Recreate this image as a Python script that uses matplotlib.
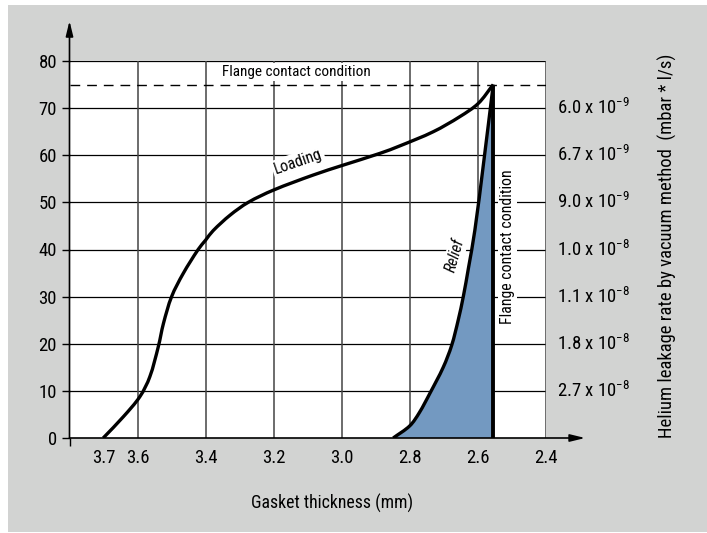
import matplotlib
matplotlib.use("Agg")
import numpy as np
import matplotlib.pyplot as plt
from matplotlib import font_manager
from matplotlib.patches import Rectangle, PathPatch
from matplotlib.path import Path

# ---------------- data ----------------
x_ticks = [3.7, 3.6, 3.4, 3.2, 3.0, 2.8, 2.6, 2.4]
x_ticklabels = ["3.7", "3.6", "3.4", "3.2", "3.0", "2.8", "2.6", "2.4"]
y_ticks = [0, 10, 20, 30, 40, 50, 60, 70, 80]
right_levels = [70, 60, 50, 40, 30, 20, 10]
right_labels = ["6.0 x 10$^{-9}$", "6.7 x 10$^{-9}$", "9.0 x 10$^{-9}$", "1.0 x 10$^{-8}$",
                "1.1 x 10$^{-8}$", "1.8 x 10$^{-8}$", "2.7 x 10$^{-8}$"]

loading_x = [3.701, 3.642, 3.593, 3.564, 3.539, 3.524, 3.500, 3.466, 3.422, 3.400, 3.378,
             3.328, 3.275, 3.201, 3.084, 2.996, 2.888, 2.829, 2.731, 2.653, 2.599, 2.555]
loading_y = [0.0, 4.5, 8.8, 13.0, 19.4, 24.3, 30.0, 34.9, 40.0, 42.0, 44.0,
             47.3, 50.0, 52.6, 55.8, 57.9, 60.4, 62.0, 65.0, 68.2, 71.0, 75.0]

relief_x = [2.849, 2.800, 2.772, 2.741, 2.702, 2.677, 2.658, 2.643, 2.628, 2.609, 2.584, 2.555]
relief_y = [0.0, 2.6, 5.4, 9.5, 15.0, 19.7, 25.0, 30.0, 36.0, 44.1, 58.0, 75.0]

contact_x = 2.555
contact_level = 75

# ---------------- fonts ----------------
names = {f.name for f in font_manager.fontManager.ttflist}
fam = None
for cand in ["Roboto Condensed", "Archivo Narrow", "PT Sans Narrow", "Liberation Sans Narrow"]:
    if cand in names:
        fam = cand
        break
if fam is None:
    fam = "DejaVu Sans"
    plt.rcParams["font.stretch"] = "condensed"
plt.rcParams["font.family"] = [fam, "DejaVu Sans"]
plt.rcParams["mathtext.fontset"] = "custom"
plt.rcParams["mathtext.rm"] = fam
plt.rcParams["mathtext.it"] = fam + ":italic"
plt.rcParams["mathtext.default"] = "rm"


def smooth_path(ax, xs, ys):
    """Chord-length Hermite spline through the points (computed in screen space)."""
    tr = ax.transData
    P = tr.transform(np.column_stack([xs, ys]))
    n = len(P)
    d = np.hypot(*np.diff(P, axis=0).T)
    M = np.zeros_like(P)
    for i in range(n):
        if i == 0:
            M[i] = (P[1] - P[0]) / d[0]
        elif i == n - 1:
            M[i] = (P[-1] - P[-2]) / d[-1]
        else:
            M[i] = (P[i + 1] - P[i - 1]) / (d[i - 1] + d[i])
    verts = [P[0]]
    codes = [Path.MOVETO]
    for i in range(n - 1):
        c1 = P[i] + M[i] * d[i] / 3.0
        c2 = P[i + 1] - M[i + 1] * d[i] / 3.0
        verts += [c1, c2, P[i + 1]]
        codes += [Path.CURVE4] * 3
    V = tr.inverted().transform(np.array(verts))
    return [tuple(v) for v in V], codes


W, H = 707, 533
fig = plt.figure(figsize=(W / 100, H / 100), dpi=100)
fig.patch.set_facecolor("white")
fig.patches.append(Rectangle((8 / W, 1 / H), 1 - 8 / W, (H - 6) / H, transform=fig.transFigure,
                             facecolor="#d2d3d2", edgecolor="none", zorder=-10))

L, R, T, B = 69.5, 546, 61, 438
ax = fig.add_axes([L / W, 1 - B / H, (R - L) / W, (B - T) / H])
ax.set_facecolor("white")
ax.set_xlim(3.8, 2.4)
ax.set_ylim(0, 80)
for s in ax.spines.values():
    s.set_visible(False)

# grid
for yv in y_ticks[1:]:
    ax.plot([3.8, 2.4], [yv, yv], color="black", lw=0.9, zorder=1)
for xv in [3.6, 3.4, 3.2, 3.0, 2.8, 2.6, 2.4]:
    ax.plot([xv, xv], [0, 80], color="#444444", lw=1.1, zorder=1)

# dashed contact line
ax.plot([3.8, 2.4], [contact_level, contact_level], color="black", lw=1.0,
        dashes=(7, 5), zorder=2)

# axes with arrows
ax.annotate("", xy=(3.8, 88.5), xytext=(3.8, 0), xycoords="data",
            arrowprops=dict(arrowstyle="-|>,head_length=0.9,head_width=0.22", color="black",
                            lw=1.2, shrinkA=0, shrinkB=0), annotation_clip=False, zorder=6)
ax.annotate("", xy=(2.285, 0), xytext=(3.8, 0), xycoords="data",
            arrowprops=dict(arrowstyle="-|>,head_length=0.9,head_width=0.22", color="black",
                            lw=1.2, shrinkA=0, shrinkB=0), annotation_clip=False, zorder=6)

# ticks
ax.set_yticks(y_ticks)
ax.set_yticklabels([str(v) for v in y_ticks], fontsize=13.5)
ax.tick_params(axis="y", direction="out", length=6, width=1.0, pad=3)
ax.set_xticks(x_ticks)
ax.set_xticklabels(x_ticklabels, fontsize=13.5)
ax.tick_params(axis="x", direction="out", length=0, pad=8)
ax.set_xticks([3.8, 3.6, 3.4, 3.2, 3.0, 2.8, 2.6, 2.4], minor=True)
ax.tick_params(axis="x", which="minor", direction="out", length=6, width=1.0)

# fill and curves
rv, rc = smooth_path(ax, relief_x, relief_y)
fill_v = rv + [(contact_x, contact_level), (contact_x, 0), rv[0]]
fill_c = rc + [Path.LINETO, Path.LINETO, Path.CLOSEPOLY]
ax.add_patch(PathPatch(Path(fill_v, fill_c), facecolor="#7399c1", edgecolor="none", zorder=3))
ax.add_patch(PathPatch(Path(rv, rc), facecolor="none", edgecolor="black", lw=2.4, zorder=5,
                       capstyle="butt", joinstyle="miter"))
lv, lc = smooth_path(ax, loading_x, loading_y)
ax.add_patch(PathPatch(Path(lv, lc), facecolor="none", edgecolor="black", lw=2.4, zorder=5,
                       capstyle="butt", joinstyle="miter"))
ax.plot([contact_x, contact_x], [0, contact_level], color="black", lw=2.8, zorder=5,
        solid_capstyle="butt")

# labels inside
bb = dict(facecolor="white", edgecolor="none", pad=1.5)
ax.text(3.132, 77.6, "Flange contact condition", fontsize=11, ha="center", va="center",
        bbox=bb, zorder=4)
ax.text(3.128, 58.6, "Loading", fontsize=11.3, ha="center", va="center", rotation=19,
        bbox=bb, zorder=4)
ax.text(2.668, 38.8, "Relief", fontsize=11.3, ha="center", va="center", rotation=74,
        style="italic", bbox=bb, zorder=4)
ax.text(2.512, 40.5, "Flange contact condition", fontsize=11.3, ha="center", va="center",
        rotation=90, bbox=bb, zorder=4)

# right-side leakage labels
for yv, lab in zip(right_levels, right_labels):
    ax.text(2.368, yv, lab, fontsize=13.5, ha="left", va="center", clip_on=False)

fig.text(667 / W, 1 - 246 / H, "Helium leakage rate by vacuum method  (mbar * l/s)",
         rotation=90, ha="center", va="center", fontsize=13.4)
fig.text(332 / W, 1 - 503 / H, "Gasket thickness (mm)", ha="center", va="center", fontsize=12.8)

fig.savefig("out.png", dpi=100, facecolor=fig.get_facecolor())
